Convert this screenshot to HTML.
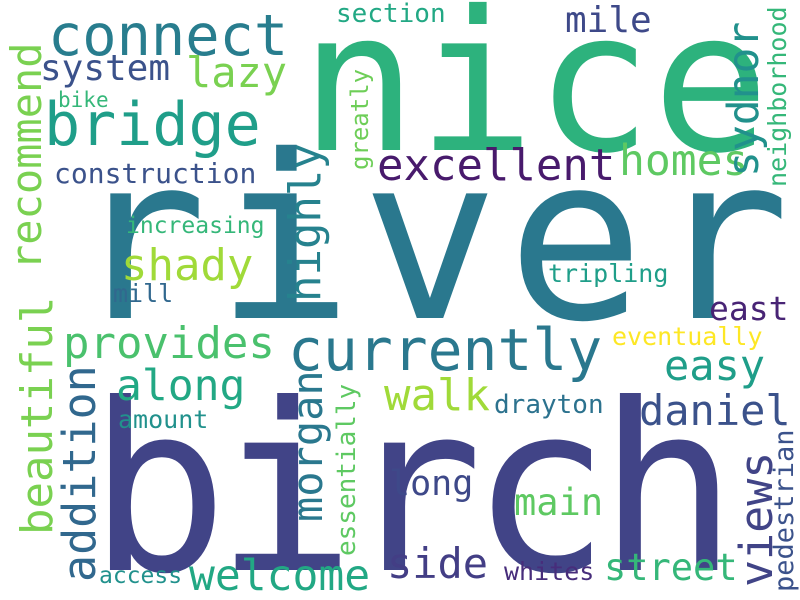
<!DOCTYPE html>
<html>
<head>
<meta charset="utf-8">
<style>
  html,body{margin:0;padding:0;background:#fff;}
  svg{display:block;}
  text{font-family:"DejaVu Sans Mono","Liberation Mono",monospace;}
</style>
</head>
<body>
<svg id="cloud" width="800" height="600" viewBox="0 0 800 600" xmlns="http://www.w3.org/2000/svg">
  <rect width="800" height="600" fill="#ffffff"/>
</svg>
<script>
// word, x, baseline y, font size, rotated(1 = vertical), color
const words = ["river","birch","nice","connect","bridge","system","lazy","mile","section","excellent","homes","construction","bike","shady","increasing","mill","tripling","provides","currently","east","easy","eventually","along","walk","amount","drayton","daniel","long","main","side","welcome","street","access","whites","recommend","beautiful","addition","highly","morgan","greatly","essentially","sydnor","neighborhood","views","pedestrian"];
const xs = [70,88,300,48,44,40,186,565,336,377,619,54,58,121,126,113,548,63,288,709,664,612,116,384,118,494,639,389,514,387,189,604,99,504,41,52,95,320,322,368,355,758,786,772,793];
const ys = [318,570,150,55,145,80,87,32,22,180,175,183,107,280,233,302,282,358,370,320,380,345,400,410,428,413,425,495,515,578,590,580,583,580,270,535,582,302,522,170,556,177,187,587,592];
const sizes = [228,233,195,57,60,36,42,36,26,44,43,28,21,44,23,25,25,44,58,33,42,25,43,44,25,26,42,35,37,42,43,37,23,25,42,44,45,44,42,24,26,43,25,45,27];
const rot = [0,0,0,0,0,0,0,0,0,0,0,0,0,0,0,0,0,0,0,0,0,0,0,0,0,0,0,0,0,0,0,0,0,0,1,1,1,1,1,1,1,1,1,1,1];
const colors = ["#2a788e","#414487","#2db27d","#287d8e","#1f9e89","#3b528b","#7ad151","#3e4989","#22a884","#481a6c","#5ec962","#3b528b","#35b779","#a0da39","#35b779","#31688e","#1f9e89","#4ac16d","#2a788e","#482475","#1f9e89","#fde725","#22a884","#a0da39","#21918c","#2c728e","#3b528b","#3e4989","#5ec962","#433e85","#22a884","#35b779","#21918c","#472d7b","#7ad151","#7ad151","#31688e","#26828e","#2a788e","#6ece58","#5ec962","#21918c","#35b779","#414487","#3b528b"];

const svg = document.getElementById('cloud');
const NS = "http://www.w3.org/2000/svg";
for (let i = 0; i < words.length; i++) {
  const t = document.createElementNS(NS, 'text');
  t.setAttribute('x', xs[i]);
  t.setAttribute('y', ys[i]);
  t.setAttribute('font-size', sizes[i]);
  t.setAttribute('fill', colors[i]);
  let len = sizes[i] * 0.602 * words[i].length;
  if (i === 0) len = 720;
  if (i === 1) len = 650;
  t.setAttribute('textLength', len.toFixed(1));
  if (rot[i]) t.setAttribute('transform', 'rotate(-90 ' + xs[i] + ' ' + ys[i] + ')');
  t.textContent = words[i];
  
  
  svg.appendChild(t);
}
</script>
</body>
</html>
